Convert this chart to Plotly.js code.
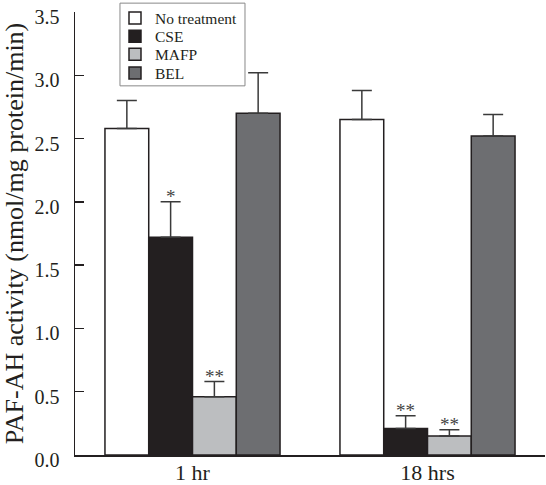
<!DOCTYPE html>
<html>
<head>
<meta charset="utf-8">
<script src="https://cdn.plot.ly/plotly-3.0.1.min.js"></script>
<style>html,body{margin:0;padding:0;background:#fff;}#chart{width:546px;height:485px;}</style>
</head>
<body>
<div id="chart"></div>
<script>
// ---- data ----
var categories = ["1 hr", "18 hrs"];
var seriesNames = ["No treatment", "CSE", "MAFP", "BEL"];
var noTreatment = [2.58, 2.65];
var cse = [1.72, 0.21];
var mafp = [0.46, 0.15];
var bel = [2.70, 2.52];
var noTreatmentErr = [0.22, 0.23];
var cseErr = [0.28, 0.10];
var mafpErr = [0.12, 0.05];
var belErr = [0.32, 0.17];
var significance = [["", ""], ["*", "**"], ["**", "**"], ["", ""]];
var yTickVals = [0, 0.5, 1.0, 1.5, 2.0, 2.5, 3.0, 3.5];

// ---- style ----
var values = [noTreatment, cse, mafp, bel];
var errors = [noTreatmentErr, cseErr, mafpErr, belErr];
var fills = ["#ffffff", "#231f20", "#bcbec0", "#6d6e71"];
var edge = "#231f20";
var serif = "Liberation Serif";
var barGap = 0.255;
var legendNames = ["legend", "legend2", "legend3", "legend4"];
var legendY = [0.9856, 0.9445, 0.9034, 0.8611];

var traces = values.map(function (v, i) {
  return {
    type: "bar",
    name: seriesNames[i],
    legend: legendNames[i],
    x: categories,
    y: v,
    marker: { color: fills[i], line: { color: edge, width: 1.5 } },
    error_y: {
      type: "data", symmetric: false, array: errors[i],
      arrayminus: errors[i].map(function () { return 0; }),
      color: "#3a3a3a", thickness: 1.5, width: 10
    }
  };
});

// asterisk annotations placed above each error bar
var annotations = [];
var n = values.length;
var barW = (1 - barGap) / n;
values.forEach(function (v, i) {
  v.forEach(function (val, j) {
    if (!significance[i][j]) return;
    annotations.push({
      xref: "x", yref: "y",
      x: j + (i - (n - 1) / 2) * barW,
      y: val + errors[i][j],
      text: significance[i][j],
      showarrow: false,
      yanchor: "bottom",
      yshift: -7,
      font: { family: serif, size: 19, color: "#444" }
    });
  });
});

var layout = {
  width: 546, height: 485,
  margin: { l: 75, r: 1, t: 5, b: 30 },
  paper_bgcolor: "#fff", plot_bgcolor: "#fff",
  barmode: "group", bargap: barGap, bargroupgap: 0,
  font: { family: serif, color: "#231f20" },
  showlegend: true,
  shapes: [{
    type: "rect", xref: "paper", yref: "paper", layer: "above",
    x0: 0.0957, x1: 0.3617, y0: 0.8333, y1: 1.02,
    fillcolor: "#fff", line: { color: "#888", width: 1 }
  }],
  xaxis: {
    type: "category", range: [-0.5, 1.5],
    showline: true, linecolor: edge, linewidth: 1.5,
    ticks: "", showgrid: false, zeroline: false,
    ticklabelstandoff: -3,
    tickfont: { family: serif, size: 22, color: "#231f20" }
  },
  yaxis: {
    range: [0, 3.5], tickvals: yTickVals, tickformat: ".1f",
    showline: true, linecolor: edge, linewidth: 1.5,
    ticks: "inside", ticklen: 9, tickwidth: 1.5, tickcolor: edge,
    showgrid: false, zeroline: false,
    ticklabelstandoff: 10, ticklabelshift: 5,
    tickfont: { family: serif, size: 20, color: "#231f20" },
    title: { text: "PAF-AH activity (nmol/mg protein/min)", font: { family: serif, size: 26, color: "#231f20" }, standoff: 6 }
  },
  annotations: annotations
};
legendNames.forEach(function (ln, i) {
  layout[ln] = {
    x: 0.0851, y: legendY[i], xanchor: "left", yanchor: "middle",
    bgcolor: "rgba(0,0,0,0)", borderwidth: 0,
    font: { family: serif, size: 15.5, color: "#231f20" },
    itemwidth: 30
  };
});

Plotly.newPlot("chart", traces, layout, { displayModeBar: false, staticPlot: true });
</script>
</body>
</html>
